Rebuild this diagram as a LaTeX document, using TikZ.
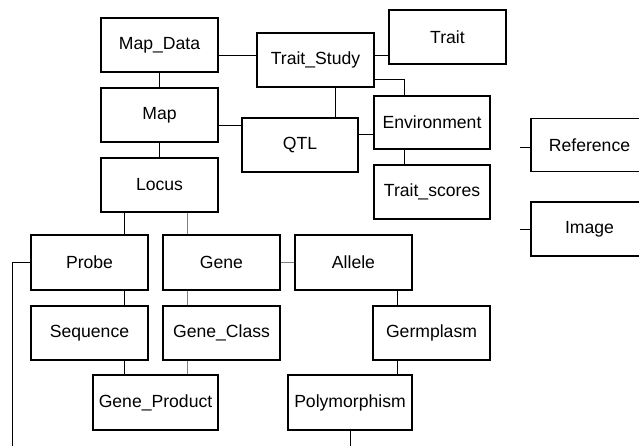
\documentclass[tikz,border=0pt]{standalone}
\usepackage{fontspec}
\setmainfont{Liberation Sans}
\usetikzlibrary{positioning}

\begin{document}
\begin{tikzpicture}[x=1pt, y=-1pt,
        tbl/.style={rectangle, draw, line width=1.3pt, minimum width=117pt, minimum height=54pt, inner sep=0pt, font=\fontsize{17.6}{19}\selectfont},
        lnk/.style={line width=1pt},
        lnkgray/.style={line width=1pt, gray}]
        \useasboundingbox (0,0) rectangle (639,446);
        \clip (0,0) rectangle (639,446);

        % Nodes
        \node[tbl] (mapdata) at (159.5,45) {Map\_Data};
        \node[tbl] (map) at (159.5,115) {Map};
        \node[tbl] (locus) at (159.5,185) {Locus};
        \node[tbl] (traitstudy) at (315.5,60) {Trait\_Study};
        \node[tbl] (trait) at (447.5,37) {Trait};
        \node[tbl, minimum width=116pt] (qtl) at (300,145) {QTL};
        \node[tbl, minimum width=116pt, minimum height=53pt] (environment) at (432,122.5) {Environment};
        \node[tbl, minimum width=116pt] (traitscores) at (432,192) {Trait\_scores};
        \node[tbl, minimum height=53pt] (reference) at (589.5,145) {Reference};
        \node[tbl] (image) at (589.5,229) {Image};
        \node[tbl, minimum height=55pt] (probe) at (89.5,262.5) {Probe};
        \node[tbl, minimum height=55pt] (gene) at (221.5,262.5) {Gene};
        \node[tbl, minimum height=55pt] (allele) at (353.5,262.5) {Allele};
        \node[tbl] (sequence) at (89.5,333) {Sequence};
        \node[tbl] (geneclass) at (221.5,333) {Gene\_Class};
        \node[tbl] (germplasm) at (431.5,333) {Germplasm};
        \node[tbl, minimum width=125pt, minimum height=55pt] (geneproduct) at (155.5,402.5) {Gene\_Product};
        \node[tbl, minimum width=124pt, minimum height=55pt] (polymorphism) at (350,402.5) {Polymorphism};

        \coordinate (probeend) at (12,446);
        \coordinate (polyend) at (350,446);
        \coordinate (reftick) at (520,148);
        \coordinate (imgtick) at (520,230);

        % Edges
        \draw[lnk] (mapdata.east |- 0,56) -- (traitstudy.west |- 0,56);
        \draw[lnk] ([yshift=4pt]traitstudy.east) -- ([yshift=4pt]traitstudy.east -| trait.west);
        \draw[lnk] ([yshift=-20pt]traitstudy.east) -| ([xshift=-28pt]environment.north);
        \draw[lnk] ([xshift=19.5pt]traitstudy.south) -- ([xshift=19.5pt]traitstudy.south |- qtl.north);
        \draw[lnk] ([yshift=-11pt]map.east) -- ([yshift=-11pt]map.east -| qtl.west);
        \draw[lnk] ([yshift=10pt]qtl.east) -- ([yshift=10pt]qtl.east -| environment.west);
        \draw[lnk] ([xshift=-28pt]environment.south) -- ([xshift=-28pt]traitscores.north);
        \draw[lnk] (mapdata.south) -- (map.north);
        \draw[lnk] (map.south) -- (locus.north);
        \draw[lnk] ([xshift=-35pt]locus.south) -- ([xshift=-35pt]locus.south |- probe.north);
        \draw[lnkgray] ([xshift=27.5pt]locus.south) -- ([xshift=27.5pt]locus.south |- gene.north);
        \draw[lnk] (probe.west) -| (probeend);
        \draw[lnk] ([xshift=35pt]probe.south) -- ([xshift=35pt]sequence.north);
        \draw[lnk] ([xshift=35pt]sequence.south) -- ([xshift=35pt]sequence.south |- geneproduct.north);
        \draw[lnkgray] ([xshift=-34.5pt]gene.south) -- ([xshift=-34.5pt]geneclass.north);
        \draw[lnkgray] ([xshift=-34.5pt]geneclass.south) -- ([xshift=-34.5pt]geneclass.south |- geneproduct.north);
        \draw[lnkgray] (gene.east) -- (allele.west);
        \draw[lnk] ([xshift=43.5pt]allele.south) -- ([xshift=43.5pt]allele.south |- germplasm.north);
        \draw[lnk] ([xshift=-34.5pt]germplasm.south) -- ([xshift=-34.5pt]germplasm.south |- polymorphism.north);
        \draw[lnk] (polymorphism.south) -- (polyend);
        \draw[lnk] (reftick) -- (reftick -| reference.west);
        \draw[lnk] (imgtick) -- (imgtick -| image.west);
    \end{tikzpicture}
\end{document}
